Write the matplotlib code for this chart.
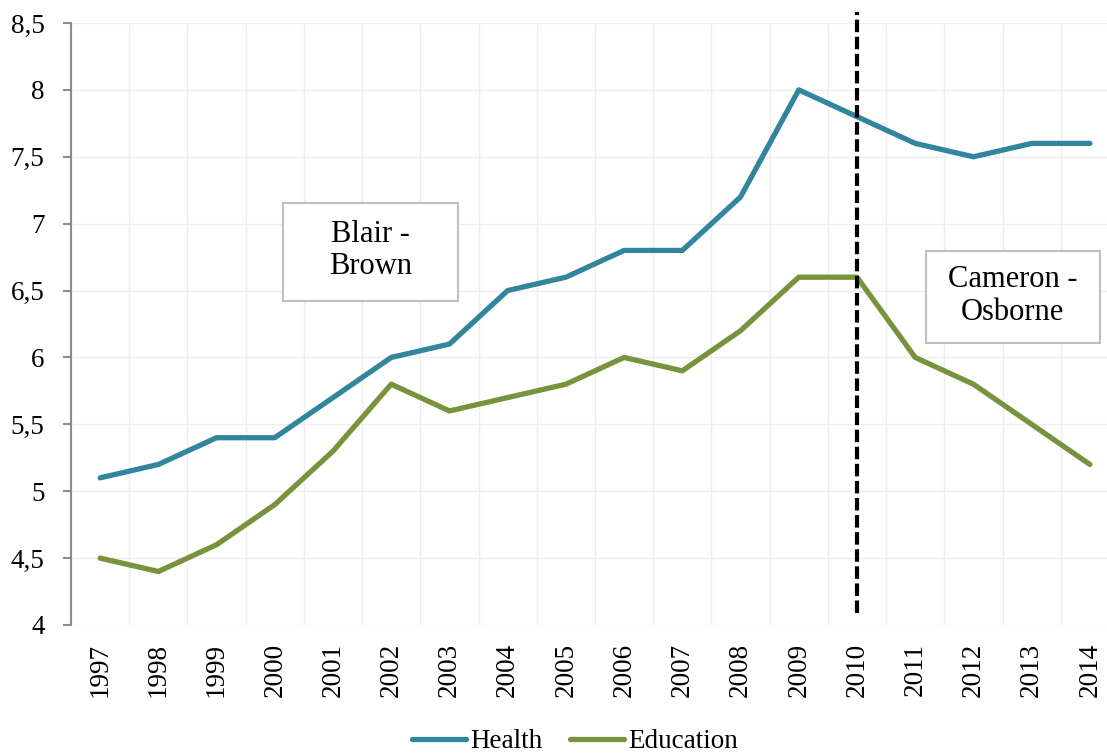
import matplotlib
matplotlib.use("Agg")
import matplotlib.pyplot as plt
from matplotlib.patches import Rectangle
from matplotlib.ticker import FixedLocator

years = [str(y) for y in range(1997, 2015)]
health = [5.1, 5.2, 5.4, 5.4, 5.7, 6.0, 6.1, 6.5, 6.6, 6.8, 6.8, 7.2, 8.0, 7.8, 7.6, 7.5, 7.6, 7.6]
education = [4.5, 4.4, 4.6, 4.9, 5.3, 5.8, 5.6, 5.7, 5.8, 6.0, 5.9, 6.2, 6.6, 6.6, 6.0, 5.8, 5.5, 5.2]
yticks = [4, 4.5, 5, 5.5, 6, 6.5, 7, 7.5, 8, 8.5]
ytick_labels = [("%g" % v).replace(".", ",") for v in yticks]

plt.rcParams['font.family'] = ['Liberation Serif', 'DejaVu Serif']

W, H = 1107, 753
fig = plt.figure(figsize=(W / 100, H / 100), dpi=100)
ax = fig.add_axes([71 / W, 128 / H, 1048 / W, 602 / H])

x = list(range(len(years)))
ax.plot(x, health, color="#31859C", lw=3.8, label="Health", solid_capstyle="round", solid_joinstyle="round", zorder=3)
ax.plot(x, education, color="#77933C", lw=3.8, label="Education", solid_capstyle="round", solid_joinstyle="round", zorder=3)

ax.set_xlim(-0.5, len(years) - 0.5)
ax.set_ylim(4, 8.5)
ax.set_yticks(yticks)
ax.set_yticklabels(ytick_labels, fontsize=19.5)
ax.set_xticks(x)
ax.set_xticklabels(years, rotation=90, fontsize=19.5)
ax.xaxis.set_minor_locator(FixedLocator([i - 0.5 for i in range(len(years) + 1)]))
ax.tick_params(axis="x", which="both", length=0, pad=13)
ax.tick_params(axis="y", length=6, width=1.5, color="#8C8C8C", pad=13)
ax.grid(True, axis="y", color="#EEEEEE", lw=1)
ax.grid(True, axis="x", which="minor", color="#EEEEEE", lw=1)
ax.grid(False, axis="x", which="major")
for s in ["top", "right", "bottom"]:
    ax.spines[s].set_visible(False)
ax.spines["left"].set_color("#8C8C8C")
ax.spines["left"].set_linewidth(1.5)
ax.set_axisbelow(True)

ax.plot([13, 13], [4.09, 8.58], color="black", lw=3.0, ls=(0, (3, 1.1)), clip_on=False, zorder=5)

# text boxes (fixed-size boxes like the original)
ax.add_patch(Rectangle((3.142, 6.422), 3.005, 0.733, fc="white", ec="#BFBFBF", lw=1.5, zorder=6))
ax.text(4.645, 6.80, "Blair -\nBrown", ha="center", va="center", fontsize=22, linespacing=1.15, zorder=7)
ax.add_patch(Rectangle((14.18, 6.108), 2.99, 0.688, fc="white", ec="#BFBFBF", lw=1.5, zorder=6))
ax.text(15.675, 6.46, "Cameron -\nOsborne", ha="center", va="center", fontsize=22, linespacing=1.15, zorder=7)

fig.legend(loc="center", bbox_to_anchor=(575 / W, 1 - 742 / H), ncol=2, frameon=False, fontsize=19.5,
           handlelength=2.0, handletextpad=0.15, columnspacing=1.0, borderpad=0)

fig.savefig("out.png", dpi=100)
